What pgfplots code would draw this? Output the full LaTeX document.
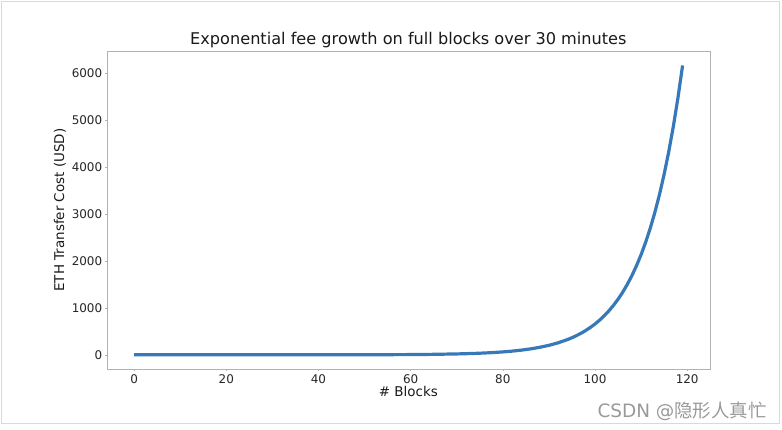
\documentclass[border=0pt]{standalone}
\usepackage{pgfplots}
\pgfplotsset{compat=1.18}
\usepackage{fontspec}
\setmainfont{DejaVu Sans}
\newfontfamily\cjk{Noto Sans CJK SC}
\definecolor{curve}{RGB}{55,121,184}
\begin{document}
\begin{tikzpicture}[x=1bp,y=1bp]
\path[use as bounding box] (0,0) rectangle (782,429);
\draw[black!15] (1.5,5.5) rectangle (779,427.5);
\begin{axis}[
  at={(106.7bp,59.7bp)}, anchor=south west,
  scale only axis, width=603.3bp, height=318.3bp,
  xmin=-5.95, xmax=124.95, ymin=-308.5, ymax=6478.5,
  xtick={0,20,...,120}, ytick={0,1000,...,6000},
  xtick pos=bottom, ytick pos=left,
  scaled ticks=false,
  /pgf/number format/1000 sep={},
  /pgf/number format/assume math mode=true,
  tick align=outside, major tick length=2bp,
  tick style={black!30, line width=0.6bp},
  axis line style={black!30},
  tick label style={font=\fontsize{12}{14}\selectfont, text=black!85},
  xticklabel style={yshift=0bp},
  yticklabel style={xshift=1bp},
  label style={font=\fontsize{13.5}{16}\selectfont, text=black!90},
  xlabel={\# Blocks},
  ylabel={ETH Transfer Cost (USD)},
  xlabel style={yshift=4bp},
  ylabel style={yshift=-1bp},
  title={Exponential fee growth on full blocks over 30 minutes},
  title style={font=\fontsize{16.2}{19}\selectfont, text=black!90, yshift=-6bp},
]
\addplot[curve, line width=3.2bp, line join=round] coordinates {
(0,0.005) (10,0.017) (20,0.05) (30,0.17) (40,0.5) (50,1.6) (60,5.3) (65,10.7)
(70,19.3) (72,24.4) (74,30.8) (76,39.0) (78,49.4) (80,62.5) (82,79.1) (84,100.1)
(86,126.6) (88,160.2) (90,202.7) (92,256.6) (94,324.7) (95,365.3) (96,410.9)
(97,462.3) (98,520.1) (99,585.1) (100,658.3) (101,740.5) (102,833.1) (103,937.3)
(104,1054.4) (105,1186.2) (106,1334.5) (107,1501.3) (108,1688.9) (109,1900.0)
(110,2137.5) (111,2404.7) (112,2705.3) (113,3043.5) (114,3423.9) (115,3851.9)
(116,4333.4) (117,4875.1) (118,5484.4) (119,6170)
};
\end{axis}
\node[text=black!40, font=\fontsize{18.5}{20}\selectfont] at (682,18) {CSDN @{\cjk 隐形人真忙}};
\end{tikzpicture}
\end{document}
